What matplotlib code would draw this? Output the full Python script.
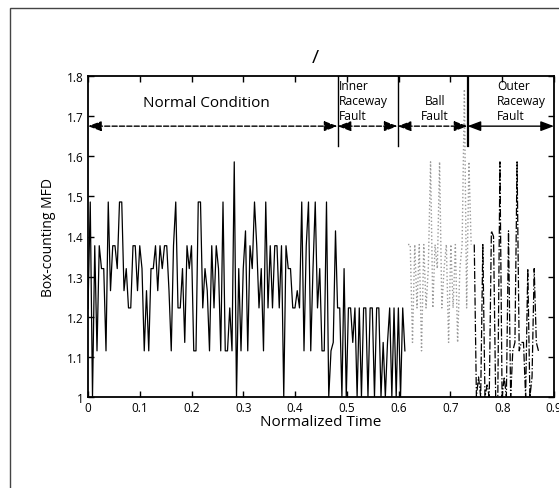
import numpy as np
import matplotlib.pyplot as plt
from matplotlib.patches import Rectangle

plt.rcParams['font.family'] = ['Open Sans', 'DejaVu Sans']

# box-counting MFD values, one per time step
normal_mfd = [
    1.22, 1.486, 1.0, 1.377, 1.115, 1.377, 1.32, 1.32, 1.115, 1.486,
    1.265, 1.377, 1.377, 1.32, 1.486, 1.486, 1.265, 1.32, 1.222, 1.222,
    1.377, 1.377, 1.265, 1.377, 1.32, 1.115, 1.265, 1.115, 1.32, 1.32,
    1.377, 1.265, 1.377, 1.32, 1.377, 1.377, 1.265, 1.115, 1.377,
    1.486, 1.222, 1.222, 1.32, 1.136, 1.377, 1.32, 1.377, 1.115, 1.115,
    1.486, 1.486, 1.222, 1.32, 1.265, 1.115, 1.377, 1.222, 1.377, 1.32,
    1.115, 1.486, 1.115, 1.115, 1.222, 1.115,
    1.586, 1.0, 1.32, 1.115, 1.32, 1.414, 1.115, 1.377, 1.32, 1.486,
    1.377, 1.222, 1.32, 1.115, 1.486, 1.222, 1.377, 1.222, 1.377, 1.377,
    1.222, 1.377, 1.0,
    1.377, 1.32, 1.32, 1.222, 1.222, 1.265, 1.222, 1.486, 1.115, 1.377,
    1.486, 1.115, 1.32, 1.486, 1.222, 1.32, 1.115, 1.115, 1.486, 1.0,
    1.115, 1.136, 1.414,
]
inner_mfd = [
    1.222, 1.222, 1.0, 1.32, 1.0, 1.222, 1.222, 1.136, 1.222, 1.0,
    1.222, 1.0, 1.222, 1.222, 1.0, 1.222, 1.222, 1.0, 1.222, 1.222,
    1.0, 1.136, 1.0, 1.136, 1.222, 1.0, 1.222, 1.0, 1.222, 1.0,
    1.222, 1.115,
]
ball_mfd = [
    1.38, 1.38, 1.136, 1.38, 1.222, 1.38, 1.115, 1.38, 1.222, 1.32,
    1.586, 1.222, 1.38, 1.32, 1.586, 1.222, 1.32, 1.38, 1.136, 1.38,
    1.222, 1.38, 1.136, 1.32, 1.38, 1.767, 1.222, 1.586, 1.38,
]
outer_mfd = [
    1.38, 1.0, 1.05, 1.0, 1.38, 1.0, 1.03, 1.0, 1.414, 1.40,
    1.0, 1.0, 1.586, 1.0, 1.05, 1.0, 1.414, 1.0, 1.115, 1.136,
    1.586, 1.115, 1.136, 1.136, 1.0, 1.32, 1.0, 1.05, 1.32, 1.136,
    1.115,
]

# normalized time span of each record
normal_span = (0.0, 0.478)
inner_span = (0.482, 0.612)
ball_span = (0.618, 0.740)
outer_span = (0.746, 0.870)

# condition boundaries and their labels
region_edges = [0.0, 0.482, 0.598, 0.733, 0.9]
region_labels = ["Normal Condition", "Inner\nRaceway\nFault",
                 "Ball\nFault", "Outer\nRaceway\nFault"]

x_ticks = [0, 0.1, 0.2, 0.3, 0.4, 0.5, 0.6, 0.7, 0.8, 0.9]
x_tick_labels = ["0", "0.1", "0.2", "0.3", "0.4", "0.5", "0.6", "0.7", "0.8", "0.9"]
y_ticks = [1.0, 1.1, 1.2, 1.3, 1.4, 1.5, 1.6, 1.7, 1.8]
y_tick_labels = ["1", "1.1", "1.2", "1.3", "1.4", "1.5", "1.6", "1.7", "1.8"]


def span_x(values, span):
    return np.linspace(span[0], span[1], len(values))


def main():
    fig = plt.figure(figsize=(5.59, 4.89), dpi=100)
    ax = fig.add_axes([88 / 559, 1 - 398 / 489, 466 / 559, 321 / 489])

    # frame around the figure (only left and top edges are inside the crop)
    fig.patches.append(Rectangle((10 / 559, -0.2), 2.0, 1.2 - 9 / 489,
                                 transform=fig.transFigure, fill=False,
                                 edgecolor="#444444", lw=1.0))

    x_black = np.concatenate([span_x(normal_mfd, normal_span),
                              span_x(inner_mfd, inner_span)])
    y_black = np.concatenate([normal_mfd, inner_mfd])
    ax.plot(x_black, y_black, color="black", lw=0.9)
    ax.plot(span_x(ball_mfd, ball_span), ball_mfd, color="#9a9a9a",
            ls=":", lw=1.0)
    ax.plot(span_x(outer_mfd, outer_span), outer_mfd, color="black",
            ls="-.", lw=0.9)

    # region markers
    arrow_y = 1.675
    for edge, lw in zip(region_edges[1:4], [1.0, 1.0, 1.6]):
        ax.plot([edge, edge], [1.8, 1.625], color="black", lw=lw)
    for i in range(4):
        ls = "-" if i == 3 else "--"
        ax.annotate("", xy=(region_edges[i + 1], arrow_y),
                    xytext=(region_edges[i], arrow_y),
                    arrowprops=dict(arrowstyle="<|-|>,head_length=0.8,head_width=0.3",
                                    color="black", lw=1.0, ls=ls,
                                    shrinkA=0, shrinkB=0))

    ax.text(0.228, 1.735, region_labels[0], ha="center", va="center",
            fontsize=11)
    ax.text(0.485, 1.792, region_labels[1], ha="left", va="top",
            fontsize=8.7, linespacing=1.2)
    ax.text(0.67, 1.755, region_labels[2], ha="center", va="top",
            fontsize=8.7, linespacing=1.2)
    ax.text(0.79, 1.792, region_labels[3], ha="left", va="top",
            fontsize=8.7, linespacing=1.2)

    # stray mark above the axes in the reference
    fig.text(315 / 559, 1 - 58 / 489, "/", ha="center", va="center",
             fontsize=14)

    ax.set_xlim(0, 0.9)
    ax.set_ylim(1.0, 1.8)
    ax.set_xticks(x_ticks)
    ax.set_xticklabels(x_tick_labels)
    ax.set_yticks(y_ticks)
    ax.set_yticklabels(y_tick_labels)
    ax.tick_params(direction="in", top=True, right=True, length=4,
                   width=1, labelsize=8.5, pad=3)
    for s in ax.spines.values():
        s.set_linewidth(1.3)

    ax.set_xlabel("Normalized Time", fontsize=11, labelpad=0)
    ax.set_ylabel("Box-counting MFD", fontsize=10, labelpad=8)

    fig.savefig("out.png", dpi=100)


if __name__ == "__main__":
    main()
